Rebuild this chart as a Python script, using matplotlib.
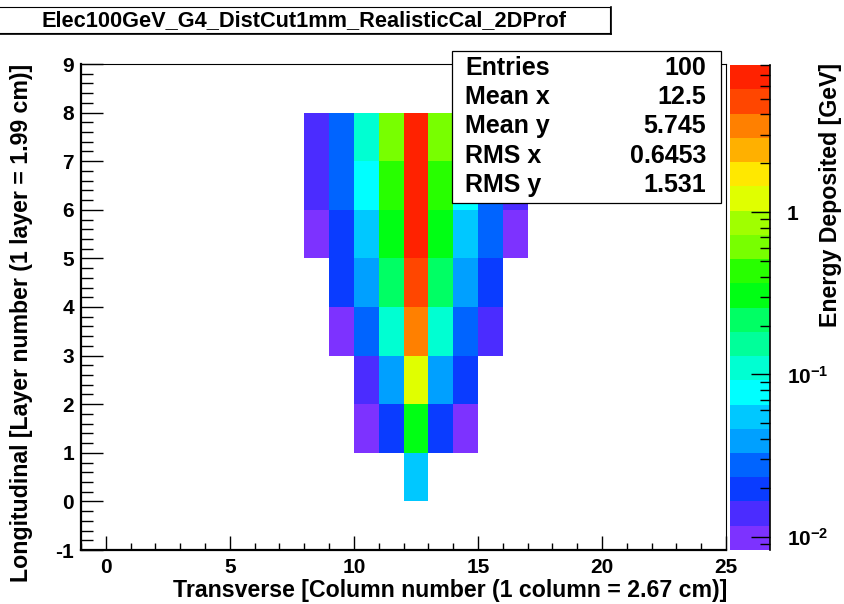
import numpy as np
import matplotlib
matplotlib.use("Agg")
import matplotlib.pyplot as plt
from matplotlib.colors import ListedColormap, LogNorm
from matplotlib.patches import Rectangle
from matplotlib.ticker import FixedLocator, MultipleLocator, NullFormatter
from matplotlib.lines import Line2D

plt.rcParams['font.family'] = ['Liberation Sans', 'DejaVu Sans']
plt.rcParams['font.weight'] = 'bold'
plt.rcParams['axes.unicode_minus'] = False
plt.rcParams['mathtext.fontset'] = 'custom'
plt.rcParams['mathtext.rm'] = 'Liberation Sans:bold'
plt.rcParams['mathtext.bf'] = 'Liberation Sans:bold'
plt.rcParams['mathtext.it'] = 'Liberation Sans:bold'

# ---------------- data ----------------
title = "Elec100GeV_G4_DistCut1mm_RealisticCal_2DProf"
columns = [8, 9, 10, 11, 12, 13, 14, 15, 16]      # transverse column (bin low edge)
layers = [0, 1, 2, 3, 4, 5, 6, 7]                  # longitudinal layer (bin low edge)
nan = np.nan
energy_gev = [
    [nan, nan, nan, nan, 0.055, nan, nan, nan, nan],                 # layer 0
    [nan, nan, 0.0105, 0.020, 0.31, 0.020, 0.0105, nan, nan],        # layer 1
    [nan, nan, 0.0140, 0.040, 1.25, 0.040, 0.020, nan, nan],         # layer 2
    [nan, 0.0100, 0.028, 0.11, 3.3, 0.11, 0.028, 0.0140, nan],       # layer 3
    [nan, 0.020, 0.039, 0.22, 4.8, 0.22, 0.039, 0.020, nan],         # layer 4
    [0.0100, 0.020, 0.055, 0.31, 6.6, 0.31, 0.055, 0.028, 0.0100],   # layer 5
    [0.0140, 0.028, 0.078, 0.43, 7.4, 0.43, 0.078, 0.028, 0.0140],   # layer 6
    [0.0140, 0.028, 0.11, 0.61, 6.2, 0.61, 0.11, 0.028, 0.0140],     # layer 7
]
z_min = 0.0083
z_max = 8.04
stats_names = ["Entries", "Mean x", "Mean y", "RMS x", "RMS y"]
stats_values = ["100", "12.5", "5.745", "0.6453", "1.531"]
palette = ['#7d32ff', '#4b2cff', '#0a3cff', '#0064ff', '#00a0ff',
           '#00c8ff', '#00ffff', '#00ffd2', '#00ff9a', '#00ff64',
           '#00ff14', '#28ff00', '#78ff00', '#a0ff00', '#e0ff00',
           '#ffe800', '#ffb000', '#ff8000', '#ff4600', '#ff2200']
x_label = "Transverse [Column number (1 column = 2.67 cm)]"
y_label = "Longitudinal [Layer number (1 layer = 1.99 cm)]"
z_label = "Energy Deposited [GeV]"

# ---------------- figure ----------------
W, H = 844, 604
fig = plt.figure(figsize=(W / 100, H / 100), dpi=100)
fig.patch.set_facecolor('white')

def fx(px):
    return px / W

def fy(py):
    return 1 - py / H

ax_l, ax_r, ax_t, ax_b = 81, 726, 64, 550
ax = fig.add_axes([fx(ax_l), fy(ax_b), fx(ax_r - ax_l), (ax_b - ax_t) / H])

Z = np.ma.masked_invalid(np.array(energy_gev, dtype=float))
xedges = np.array(columns + [columns[-1] + 1])
yedges = np.array(layers + [layers[-1] + 1])
cmap = ListedColormap(palette)
norm = LogNorm(vmin=z_min, vmax=z_max)
mesh = ax.pcolormesh(xedges, yedges, Z, cmap=cmap, norm=norm,
                     shading='flat', antialiased=False, edgecolors='none')

ax.set_xlim(-1, 25)
ax.set_ylim(-1, 9)
ax.xaxis.set_major_locator(MultipleLocator(5))
ax.xaxis.set_minor_locator(MultipleLocator(1))
ax.yaxis.set_major_locator(MultipleLocator(1))
ax.yaxis.set_minor_locator(MultipleLocator(0.2))

tick_fs = 15
title_fs = 16.7
ax.tick_params(axis='x', which='major', direction='in', length=10, width=1,
               labelsize=tick_fs, pad=6, top=False)
ax.tick_params(axis='x', which='minor', direction='in', length=5, width=1, top=False)
ax.tick_params(axis='y', which='major', direction='in', length=16, width=1,
               labelsize=tick_fs, pad=5, right=False)
ax.tick_params(axis='y', which='minor', direction='in', length=8.5, width=1, right=False)
for lab in ax.get_xticklabels() + ax.get_yticklabels():
    lab.set_fontweight('bold')

ax.spines['left'].set_linewidth(1.6)
ax.spines['bottom'].set_linewidth(1.6)
ax.spines['top'].set_linewidth(0.8)
ax.spines['right'].set_linewidth(0.8)

# axis titles
fig.text(fx(727), fy(590), x_label, ha='right', va='center',
         fontsize=title_fs, fontweight='bold')
fig.text(fx(22), fy(64), y_label, ha='center', va='top', rotation=90,
         fontsize=title_fs, fontweight='bold')

# ---------------- colour bar ----------------
cax = fig.add_axes([fx(730), fy(550), fx(40), 485 / H])
cbar = fig.colorbar(mesh, cax=cax)
cbar.outline.set_visible(False)
cax.yaxis.set_major_locator(FixedLocator([0.01, 0.1, 1]))
minor_vals = [m * 10.0 ** e for e in (-3, -2, -1, 0) for m in range(2, 10)]
minor_vals = [v for v in minor_vals if z_min <= v <= z_max]
cax.yaxis.set_minor_locator(FixedLocator(minor_vals))
cax.yaxis.set_minor_formatter(NullFormatter())
cax.set_yticklabels([r'$\mathbf{10^{-2}}$', r'$\mathbf{10^{-1}}$', '1'])
cax.tick_params(axis='y', which='major', direction='in', length=14, width=1,
                labelsize=tick_fs, pad=12, right=True, left=False)
cax.tick_params(axis='y', which='minor', direction='in', length=7, width=1,
                right=True, left=False)
for lab in cax.get_yticklabels():
    lab.set_fontweight('bold')
cax.add_line(Line2D([1, 1], [0, 1], transform=cax.transAxes, color='black',
                    lw=1.2, clip_on=False))
fig.text(fx(830), fy(63), z_label, ha='center', va='top', rotation=90,
         fontsize=title_fs, fontweight='bold')

# ---------------- title box ----------------
tb_l, tb_r, tb_t, tb_b = -2, 610, 7, 33
fig.patches.append(Rectangle((fx(tb_l), fy(tb_b)), fx(tb_r - tb_l), (tb_b - tb_t) / H,
                             transform=fig.transFigure, facecolor='white',
                             edgecolor='black', lw=0.8, zorder=5))
fig.add_artist(Line2D([fx(tb_l), fx(tb_r + 1)], [fy(tb_b + 0.8), fy(tb_b + 0.8)],
                      transform=fig.transFigure, color='black', lw=1.2, zorder=6))
fig.add_artist(Line2D([fx(tb_r + 0.8), fx(tb_r + 0.8)], [fy(tb_t), fy(tb_b + 1)],
                      transform=fig.transFigure, color='black', lw=1.2, zorder=6))
fig.text(fx(304), fy(20.5), title, ha='center', va='center',
         fontsize=15.7, fontweight='bold', zorder=7)

# ---------------- stats box ----------------
sb_l, sb_r, sb_t, sb_b = 452, 721, 51, 203
fig.patches.append(Rectangle((fx(sb_l), fy(sb_b)), fx(sb_r - sb_l), (sb_b - sb_t) / H,
                             transform=fig.transFigure, facecolor='white',
                             edgecolor='black', lw=0.9, zorder=5))
row_y = [68, 97, 126, 156, 185]
for name, val, yy in zip(stats_names, stats_values, row_y):
    fig.text(fx(465), fy(yy), name, ha='left', va='center', fontsize=18,
             fontweight='bold', zorder=7)
    fig.text(fx(706), fy(yy), val, ha='right', va='center', fontsize=18,
             fontweight='bold', zorder=7)

fig.savefig("out.png", dpi=100, facecolor='white')
